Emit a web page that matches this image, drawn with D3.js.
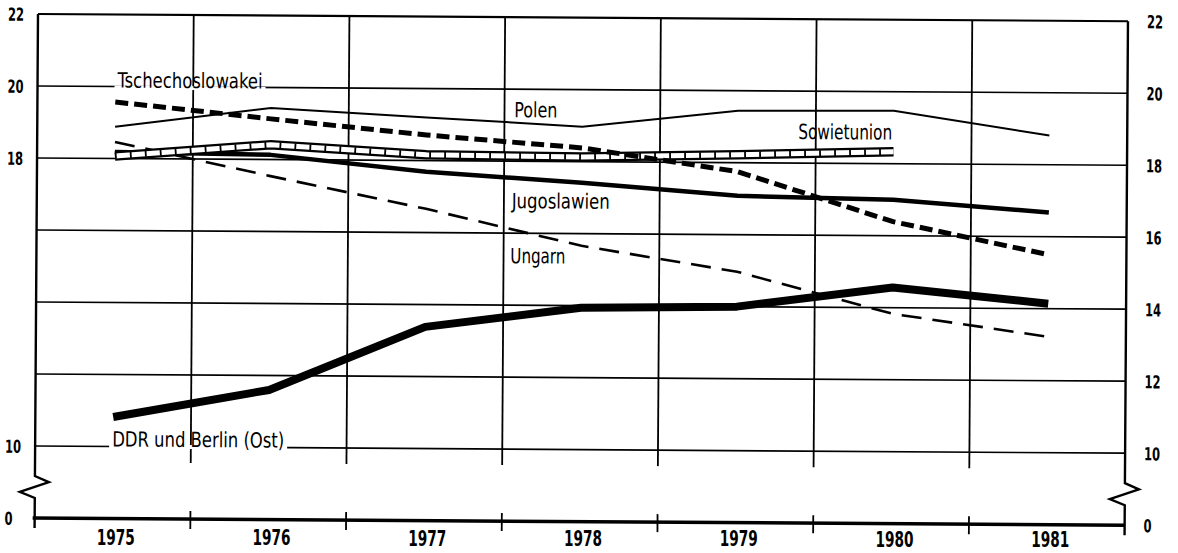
<!DOCTYPE html>
<html>
<head>
<meta charset="utf-8">
<script src="https://cdn.jsdelivr.net/npm/d3@7"></script>
<style>
  body { margin: 0; background: #fff; }
  svg { display: block; }
</style>
</head>
<body>
<div class="chart"></div>
<script>
// data
const years = [1975, 1976, 1977, 1978, 1979, 1980, 1981];
const ticksRight = [22, 20, 18, 16, 14, 12, 10];
const ticksLeft = [22, 20, 18, 10];
const tschechoslowakei = [19.57, 19.13, 18.71, 18.38, 17.75, 16.39, 15.50];
const polen = [18.88, 19.43, 19.20, 18.97, 19.44, 19.47, 18.81];
const sowjetunion = [18.07, 18.41, 18.16, 18.13, 18.22, 18.33];
const jugoslawien = [18.18, 18.13, 17.69, 17.41, 17.08, 17.00, 16.67];
const ungarn = [18.46, 17.54, 16.66, 15.66, 14.97, 13.83, 13.22];
const ddr = [10.82, 11.60, 13.38, 13.94, 14.00, 14.56, 14.14];

(function () {
    'use strict';

    const W = 1178, H = 553;
    const plotLeft = 38, plotRight = 1128, plotTop = 14, tenY = 446, zeroY = 518;

    const svg = d3.select('.chart').append('svg').attr('width', W).attr('height', H);
    // the scan is a little tilted
    const g = svg.append('g').attr('transform', 'rotate(0.38,' + plotLeft + ',' + plotTop + ')');

    const x = d3.scalePoint().domain(years).range([plotLeft, plotRight]).padding(0.5);
    const xBand = d3.scaleBand().domain(years).range([plotLeft, plotRight]);
    const y = d3.scaleLinear().domain([10, 22]).range([tenY, plotTop]);

    const font = "'DejaVu Sans Condensed', 'DejaVu Sans', sans-serif";

    // horizontal grid
    g.append('g').selectAll('line').data(ticksRight).enter().append('line')
        .attr('x1', plotLeft).attr('x2', plotRight)
        .attr('y1', function (d) { return y(d); })
        .attr('y2', function (d) { return y(d); })
        .attr('stroke', '#000')
        .attr('stroke-width', function (d) { return d === 22 ? 2.2 : 1.7; });

    // vertical grid + ticks at the zero line
    const inner = years.slice(1);
    g.append('g').selectAll('line').data(inner).enter().append('line')
        .attr('x1', function (d) { return xBand(d); })
        .attr('x2', function (d) { return xBand(d); })
        .attr('y1', plotTop).attr('y2', 462)
        .attr('stroke', '#000').attr('stroke-width', 1.8);
    g.append('g').selectAll('line').data(inner).enter().append('line')
        .attr('x1', function (d) { return xBand(d); })
        .attr('x2', function (d) { return xBand(d); })
        .attr('y1', 510).attr('y2', 528)
        .attr('stroke', '#000').attr('stroke-width', 1.8);

    // zero line
    g.append('line').attr('x1', plotLeft - 2).attr('x2', plotRight)
        .attr('y1', zeroY).attr('y2', zeroY)
        .attr('stroke', '#000').attr('stroke-width', 3.5);

    // side axes with break marks
    [plotLeft, plotRight].forEach(function (ax) {
        const p = d3.path();
        p.moveTo(ax, plotTop);
        p.lineTo(ax, 476);
        p.lineTo(ax + 14, 482);
        p.lineTo(ax - 15, 492);
        p.lineTo(ax, 498);
        p.lineTo(ax, 528);
        g.append('path').attr('d', p.toString())
            .attr('fill', 'none').attr('stroke', '#000')
            .attr('stroke-width', 2.4).attr('stroke-linejoin', 'miter');
    });

    // tick labels
    function tickText(sel, xPos, vals) {
        sel.selectAll('text').data(vals).enter().append('text')
            .attr('x', xPos)
            .attr('y', function (d) { return (d === 0 ? zeroY : y(d)) + 7; })
            .attr('textLength', function (d) { return String(d).length * 8; })
            .attr('lengthAdjust', 'spacingAndGlyphs')
            .style('font-family', font).style('font-weight', 'bold')
            .style('font-size', '18px')
            .text(function (d) { return d; });
    }
    tickText(g.append('g'), 8, ticksLeft.concat([0]));
    tickText(g.append('g'), 1147, ticksRight.concat([0]));

    // year labels (kept level, they sit near the bottom edge)
    svg.append('g').selectAll('text').data(years).enter().append('text')
        .attr('x', function (d) { return x(d); })
        .attr('y', function (d) { return 545 + (x(d) - plotLeft) * 0.002; })
        .attr('text-anchor', 'middle')
        .attr('textLength', 38).attr('lengthAdjust', 'spacingAndGlyphs')
        .style('font-family', font).style('font-weight', 'bold')
        .style('font-size', '21px')
        .text(function (d) { return d; });

    // series
    const line = d3.line()
        .x(function (d, i) { return x(years[i]); })
        .y(function (d) { return y(d); });

    g.append('path').attr('d', line(polen))
        .attr('fill', 'none').attr('stroke', '#000').attr('stroke-width', 2);

    g.append('path').attr('d', line(ungarn))
        .attr('fill', 'none').attr('stroke', '#000').attr('stroke-width', 2.6)
        .attr('stroke-dasharray', '20,11');

    g.append('path').attr('d', line(jugoslawien))
        .attr('fill', 'none').attr('stroke', '#000').attr('stroke-width', 4.5)
        .attr('stroke-linejoin', 'round');

    // sowjetunion: hollow "ladder" line
    const su = line(sowjetunion);
    g.append('path').attr('d', su).attr('fill', 'none')
        .attr('stroke', '#000').attr('stroke-width', 9.5);
    g.append('path').attr('d', su).attr('fill', 'none')
        .attr('stroke', '#fff').attr('stroke-width', 5);
    g.append('path').attr('d', su).attr('fill', 'none')
        .attr('stroke', '#000').attr('stroke-width', 6)
        .attr('stroke-dasharray', '1.8,13.2');

    g.append('path').attr('d', line(tschechoslowakei))
        .attr('fill', 'none').attr('stroke', '#000').attr('stroke-width', 5)
        .attr('stroke-dasharray', '13,6');

    g.append('path').attr('d', line(ddr))
        .attr('fill', 'none').attr('stroke', '#000').attr('stroke-width', 8)
        .attr('stroke-linejoin', 'round');

    // series labels
    const labels = [
        { text: 'Tschechoslowakei', x: 118, y: 87, w: 145, knock: true },
        { text: 'Polen', x: 515, y: 114, w: 43 },
        { text: 'Sowietunion', x: 799, y: 134, w: 94 },
        { text: 'Jugoslawien', x: 513, y: 205, w: 98 },
        { text: 'Ungarn', x: 512, y: 260, w: 55 },
        { text: 'DDR und Berlin (Ost)', x: 115, y: 446, w: 172, knock: true }
    ];
    labels.forEach(function (l) {
        if (l.knock) {
            g.append('rect').attr('x', l.x - 3).attr('y', l.y - 2)
                .attr('width', l.w + 6).attr('height', 4).attr('fill', '#fff');
        }
        g.append('text').attr('x', l.x).attr('y', l.y)
            .attr('textLength', l.w).attr('lengthAdjust', 'spacingAndGlyphs')
            .style('font-family', font).style('font-size', '21px')
            .text(l.text);
    });
}());
</script>
</body>
</html>
